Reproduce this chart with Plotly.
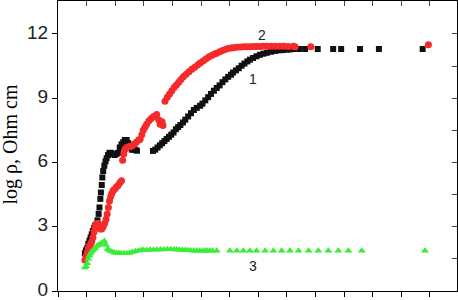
import plotly.graph_objects as go

# Series 1 (black squares)
x1 = [0.94,0.98,1.02,1.06,1.1,1.14,1.18,1.22,1.26,1.3,1.34,1.38,1.42,1.45,1.48,1.5,1.53,1.55,1.58,1.62,1.66,1.7,1.75,1.8,1.86,1.92,1.98,2.04,2.1,2.16,2.22,2.28,2.34,2.4,2.46,2.52,2.58,2.64,2.7,2.76,
      3.32,3.4,3.48,3.56,3.64,3.72,3.8,3.88,3.96,4.04,4.12,4.2,4.28,4.37,4.45,4.55,4.65,4.75,4.85,4.97,5.05,5.15,5.25,5.35,5.45,5.55,5.65,5.75,5.85,5.95,6.05,6.12,6.22,6.32,6.42,6.52,6.62,6.71,6.82,6.94,7.06,7.18,7.3,7.45,7.6,7.75,7.87,8.0,8.12,8.23,8.43,8.64,9.08,9.62,9.9,10.56,11.22,12.75]
y1 = [1.76,1.9,2.0,2.2,2.35,2.5,2.65,2.8,2.95,3.05,3.1,3.3,3.6,3.9,4.3,4.6,4.95,5.3,5.6,5.85,6.05,6.2,6.35,6.45,6.45,6.4,6.35,6.4,6.45,6.7,6.85,6.95,7.05,7.05,6.9,6.7,6.6,6.6,6.6,6.55,
      6.54,6.6,6.7,6.8,6.9,7.0,7.1,7.2,7.3,7.4,7.55,7.65,7.75,7.87,8.0,8.15,8.3,8.45,8.55,8.65,8.75,8.9,9.05,9.2,9.35,9.48,9.6,9.75,9.88,10.0,10.1,10.2,10.3,10.4,10.52,10.62,10.72,10.8,10.88,10.96,11.03,11.08,11.12,11.17,11.21,11.24,11.25,11.27,11.28,11.3,11.3,11.3,11.3,11.3,11.3,11.3,11.3,11.3]

# Series 2 (red circles)
x2 = [0.94,0.98,1.02,1.06,1.1,1.14,1.18,1.22,1.26,1.29,1.33,1.37,1.4,1.44,1.48,1.53,1.58,1.63,1.68,1.72,1.76,1.8,1.84,1.88,1.93,1.98,2.04,2.1,2.16,2.22,2.26,2.3,2.34,2.4,2.46,2.52,2.58,2.66,2.74,2.82,2.87,2.93,2.98,3.04,3.1,3.18,3.26,3.34,3.45,3.52,3.57,3.64,3.67,
      3.74,3.82,3.9,3.98,4.06,4.14,4.22,4.3,4.38,4.48,4.58,4.68,4.78,4.88,4.97,5.07,5.17,5.27,5.37,5.47,5.55,5.65,5.75,5.85,5.95,6.05,6.13,6.25,6.38,6.5,6.6,6.71,6.83,6.95,7.07,7.18,7.3,7.45,7.6,7.75,7.9,8.05,8.23,8.29,8.84,12.95]
y2 = [1.45,1.6,1.8,2.0,2.1,2.2,2.3,2.5,2.75,3.0,3.1,3.15,3.15,3.0,2.9,2.9,3.0,3.15,3.35,3.6,3.9,4.2,4.4,4.55,4.69,4.75,4.85,4.92,5.05,5.15,6.11,6.4,6.62,6.7,6.72,6.75,6.77,6.85,6.95,7.05,7.08,7.3,7.5,7.65,7.78,7.95,8.05,8.15,8.24,8.0,7.78,7.9,7.73,
      8.86,9.05,9.2,9.35,9.5,9.62,9.75,9.88,10.0,10.12,10.24,10.35,10.45,10.55,10.64,10.74,10.83,10.92,11.0,11.06,11.1,11.17,11.23,11.28,11.32,11.35,11.36,11.38,11.39,11.4,11.4,11.4,11.41,11.42,11.42,11.43,11.43,11.43,11.43,11.43,11.43,11.42,11.43,11.4,11.4,11.5]

# Series 3 (green triangles)
x3 = [0.94,0.98,1.02,1.06,1.1,1.14,1.18,1.24,1.3,1.36,1.42,1.48,1.55,1.62,1.68,1.74,1.8,1.88,1.96,2.04,2.12,2.2,2.3,2.4,2.5,2.6,2.7,2.8,2.9,2.98,3.1,3.22,3.34,3.46,3.58,3.7,3.82,3.94,4.06,4.15,4.25,4.35,4.45,4.55,4.65,4.75,4.85,4.95,5.05,5.15,5.22,5.31,5.4,
      5.55,6.01,6.25,6.48,6.71,6.94,7.24,7.53,7.82,8.11,8.41,8.76,9.1,9.45,9.8,10.15,10.62,12.83]
y3 = [1.1,1.15,1.3,1.5,1.65,1.75,1.85,1.91,2.0,2.1,2.15,2.2,2.25,2.33,2.15,1.95,1.88,1.84,1.8,1.78,1.77,1.76,1.76,1.76,1.78,1.82,1.86,1.88,1.9,1.91,1.92,1.93,1.93,1.93,1.94,1.94,1.95,1.95,1.94,1.94,1.93,1.92,1.91,1.9,1.89,1.88,1.88,1.88,1.88,1.88,1.88,1.88,1.88,
      1.88,1.88,1.88,1.88,1.88,1.88,1.88,1.88,1.88,1.88,1.88,1.88,1.88,1.88,1.88,1.88,1.88,1.88]

labels = ["1", "2", "3"]
label_x = [6.82, 7.13, 6.82]
label_y = [9.9, 11.94, 1.16]

y_tickvals = [0, 3, 6, 9, 12]

fig = go.Figure()
fig.add_trace(go.Scatter(x=x1, y=y1, mode="markers",
                         marker=dict(symbol="square", size=6, color="#111111")))
fig.add_trace(go.Scatter(x=x2, y=y2, mode="markers",
                         marker=dict(symbol="circle", size=7, color="#f52a2a")))
fig.add_trace(go.Scatter(x=x3, y=y3, mode="markers",
                         marker=dict(symbol="triangle-up", size=7, color="#38ee38")))
# dummy trace to activate top/right axes
fig.add_trace(go.Scatter(x=[None], y=[None], xaxis="x2", yaxis="y2", showlegend=False))

for t, lx, ly in zip(labels, label_x, label_y):
    fig.add_annotation(x=lx, y=ly, text=t, showarrow=False,
                       font=dict(family="Liberation Sans, Arial", size=14, color="#222"))

fig.add_annotation(xref="paper", yref="paper", x=-0.118, y=0.505, xanchor="center", yanchor="middle",
                   text="log ρ, Ohm cm", textangle=-90, showarrow=False,
                   font=dict(family="Liberation Serif, Times New Roman", size=20, color="#000"))

xr = [0, 13.95]
yr = [0, 13.54]
fig.update_layout(
    width=458, height=300,
    margin=dict(l=58, r=1, t=1, b=9),
    plot_bgcolor="white", paper_bgcolor="white",
    showlegend=False,
    xaxis=dict(range=xr, showgrid=False, zeroline=False, showline=True, linecolor="black", linewidth=1,
               ticks="outside", ticklen=5, tickcolor="black", dtick=1, tick0=0, showticklabels=False,
               automargin=False),
    yaxis=dict(range=yr, showgrid=False, zeroline=False, showline=True, linecolor="black", linewidth=1,
               ticks="outside", ticklen=5, tickcolor="black", tickvals=y_tickvals, automargin=False,
               ticklabeloverflow="allow", ticklabelshift=-2,
               tickfont=dict(family="Liberation Sans, Arial", size=19, color="#222")),
    xaxis2=dict(range=xr, overlaying="x", side="top", showgrid=False, zeroline=False, showline=True,
                linecolor="black", ticks="inside", ticklen=5, dtick=1, tick0=0, showticklabels=False,
                automargin=False),
    yaxis2=dict(range=yr, overlaying="y", side="right", showgrid=False, zeroline=False, showline=True,
                linecolor="black", ticks="inside", ticklen=5, dtick=1.5, tick0=0, showticklabels=False,
                automargin=False),
)

fig.write_html("out.html", config={"displayModeBar": False},
               post_script="document.body.style.margin='0';document.body.style.overflow='hidden';")
